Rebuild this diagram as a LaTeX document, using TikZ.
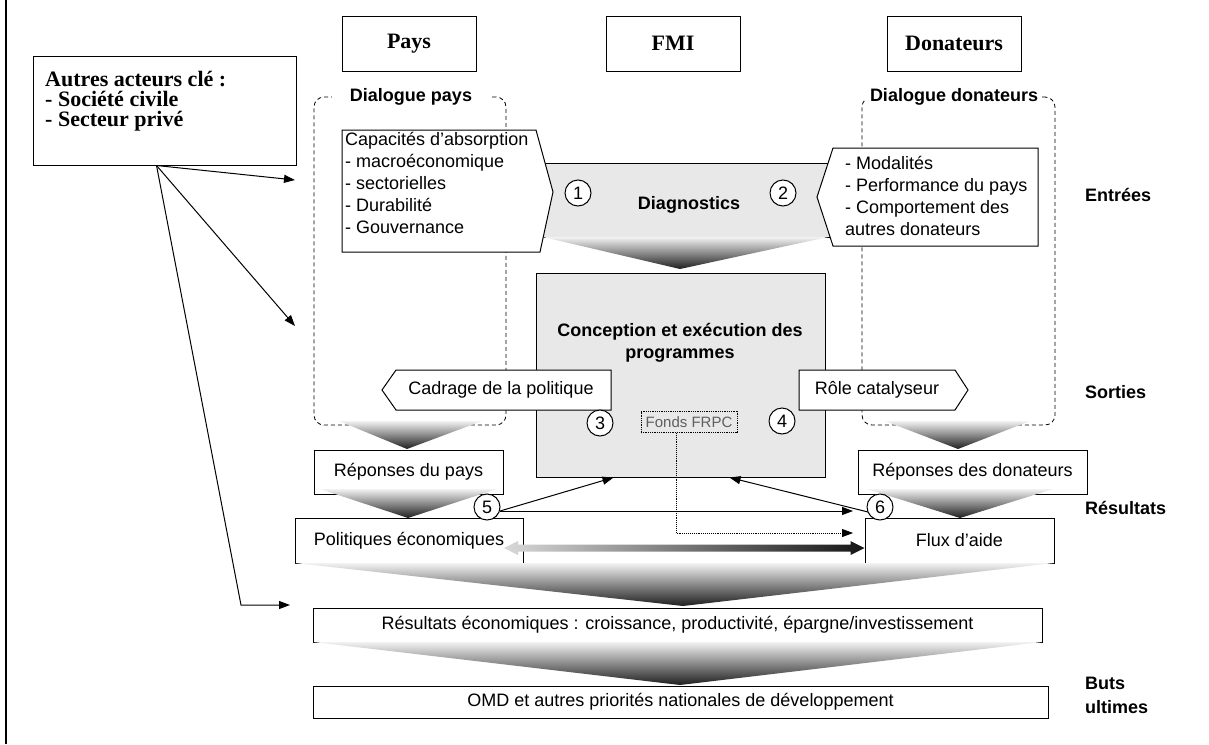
\documentclass[tikz,border=0pt]{standalone}
\usepackage{fontspec}
\setmainfont{Liberation Serif}
\setsansfont{Liberation Sans}
\usetikzlibrary{arrows.meta,calc}
\definecolor{bandgray}{RGB}{232,232,232}
\definecolor{fondsgray}{RGB}{95,95,95}
\begin{document}
\begin{tikzpicture}[x=1pt,y=-1pt,
  every node/.style={inner sep=2pt},
  ln/.style={line width=1pt},
  box/.style={draw, line width=1pt, fill=white, inner sep=0pt},
  st/.style={font=\sffamily\fontsize{18}{22}\selectfont},
  sb/.style={font=\sffamily\bfseries\fontsize{18}{22}\selectfont},
  rb/.style={font=\rmfamily\bfseries\fontsize{22}{20}\selectfont},
  num/.style={circle, draw, line width=1pt, fill=white, minimum size=26pt, inner sep=0pt, font=\sffamily\fontsize{18}{18}\selectfont},
  arr/.style={line width=1pt, -{Triangle[length=11pt,width=8pt]}},
  funnel/.style={top color=black!5, bottom color=black!88, draw=none},
  region/.style={draw, line width=0.8pt, dash pattern=on 4pt off 3pt, rounded corners=10pt, inner sep=0pt},
]
\useasboundingbox (0,0) rectangle (1209,744);
\fill[white] (0,0) rectangle (1209,744);
\draw[line width=1.6pt] (6,0) -- (6,744);

% other actors
\node[box, minimum width=263, minimum height=109] (autres) at (164.5,110.5) {};
\node[rb, anchor=north west, align=left] (autrestxt) at (43,69) {Autres acteurs clé :\\- Société civile\\- Secteur privé};

% column heads
\node[box, rb, minimum width=134, minimum height=55] (pays) at (409,43.5) {Pays};
\node[box, rb, minimum width=134, minimum height=55] (fmi) at (673,43.5) {FMI};
\node[box, rb, minimum width=134, minimum height=55] (don) at (954,43.5) {Donateurs};

% dialogue regions
\node[region, minimum width=192, minimum height=328] (dlgp) at (410,261) {};
\node[region, minimum width=193, minimum height=328] (dlgd) at (958.5,261) {};
\node[sb, fill=white, inner xsep=18pt, inner ysep=2pt] (dlgplbl) at (411,97) {Dialogue pays};
\node[sb, fill=white, inner xsep=4pt, inner ysep=2pt] (dlgdlbl) at (954,97) {Dialogue donateurs};

% diagnostics band
\node[draw, line width=0.8pt, fill=bandgray, minimum width=315, minimum height=74, inner sep=0pt] (band) at (682.5,200) {};
\draw[ln, fill=white] (342,130) -- (536,130) -- (553,192) -- (540,252) -- (342,252) -- cycle;
\node[st, anchor=north west, align=left] (captxt) at (343,130.5) {Capacités d’absorption\\- macroéconomique\\- sectorielles\\- Durabilité\\- Gouvernance};
\draw[ln, fill=white] (833,148) -- (1038,148) -- (1038,246) -- (833,246) -- (817,197) -- cycle;
\node[st, anchor=north west, align=left] (dontxt) at (843,154) {- Modalités\\- Performance du pays\\- Comportement des\\autres donateurs};
\node[sb] (diagtxt) at (689,205) {Diagnostics};
\node[num] (c1) at (578,193) {1};
\node[num] (c2) at (783,193) {2};
\shade[funnel] (543,237) -- (828,237) -- (680,269) -- cycle;

% programme
\node[draw, ln, fill=bandgray, minimum width=289, minimum height=204, inner sep=0pt] (conc) at (680.5,375) {};
\node[sb, anchor=north, align=center] (conctxt) at (680,321.5) {Conception et exécution des\\programmes};
\draw[ln, fill=white] (382,390) -- (396,370) -- (611,370) -- (611,410) -- (396,410) -- cycle;
\node[st] (cadtxt) at (501,390) {Cadrage de la politique};
\draw[ln, fill=white] (799,370) -- (955,370) -- (968,390) -- (955,410) -- (799,410) -- cycle;
\node[st] (roletxt) at (877,390) {Rôle catalyseur};
\node[num] (c3) at (600,423) {3};
\node[num] (c4) at (782,421) {4};
\node[draw, densely dotted, line width=0.8pt, text=fondsgray, font=\sffamily\fontsize{15}{15}\selectfont, minimum width=96, minimum height=21, inner sep=0pt] (fonds) at (689,422) {Fonds FRPC};

% responses
\shade[funnel] (339,421) -- (482,421) -- (407,449) -- cycle;
\shade[funnel] (885,421) -- (1030,421) -- (958,449) -- cycle;
\node[box, st, minimum width=189, minimum height=44] (reppays) at (408.5,472) {Réponses du pays};
\node[box, st, minimum width=229, minimum height=44] (repdon) at (972.5,472) {Réponses des donateurs};
\shade[funnel] (320,489) -- (497,489) -- (408,518) -- cycle;
\shade[funnel] (867,489) -- (1053,489) -- (960,518) -- cycle;
\node[box, st, minimum width=228, minimum height=45] (pol) at (409,540.5) {Politiques économiques};
\node[box, st, minimum width=189, minimum height=45] (flux) at (959.5,540.5) {Flux d’aide};

% connectors between programme, policies and aid
\coordinate (t5) at ($(conc.south west)+(78,0)$);
\coordinate (t6) at ($(conc.south west)+(194,0)$);
\coordinate (c5o) at (500,511);
\coordinate (c6o) at (868,512);
\draw[arr] (c5o) -- (t5);
\draw[arr] (c5o) -- (853,511);
\draw[arr] (c6o) -- (t6);
\node[num] (c5) at (487,507) {5};
\node[num] (c6) at (880,507) {6};
\coordinate (fd) at ($(fonds.south)+(-13,0)$);
\coordinate (td) at (853,533);
\draw[line width=0.9pt, densely dotted, -{Triangle[length=11pt,width=8pt]}] (fd) |- (td);
\coordinate (ga) at (504,548);
\coordinate (gb) at (flux.west |- ga);
\shade[left color=black!15, right color=black!92] (ga) -- ++(14,-7) -- ++(0,3.5) -- ($(gb)+(-14,-3.5)$) -- ++(0,-3.5) -- (gb) -- ++(-14,7) -- ++(0,-3.5) -- ($(ga)+(14,3.5)$) -- ++(0,3.5) -- cycle;

% outcomes
\shade[funnel] (295,563) -- (1054,563) -- (683,606) -- cycle;
\node[box, font=\sffamily\fontsize{18}{20}\selectfont, minimum width=729, minimum height=34] (res) at (677.5,625) {Résultats économiques : croissance, productivité, épargne/investissement};
\shade[funnel] (313,642) -- (1042,642) -- (680,685) -- cycle;
\node[box, font=\sffamily\fontsize{18}{20}\selectfont, minimum width=735, minimum height=32] (omd) at (680.5,702) {OMD et autres priorités nationales de développement};

% arrows from other actors
\coordinate (aorig) at ($(autres.south)+(-8,0)$);
\coordinate (ta1) at (295,180);
\coordinate (ta2) at (295,326);
\coordinate (tb3) at (241,605);
\coordinate (ta3) at (290,605);
\draw[arr] (aorig) -- (ta1);
\draw[arr] (aorig) -- (ta2);
\draw[arr] (aorig) -- (tb3) -- (ta3);

% stage labels
\node[sb, anchor=west] (lblin) at (1083,195) {Entrées};
\node[sb, anchor=west] (lblout) at (1083,392) {Sorties};
\node[sb, anchor=west] (lblres) at (1083,508) {Résultats};
\node[sb, anchor=west, align=left, font=\sffamily\bfseries\fontsize{18}{24}\selectfont] (lblbuts) at (1083,695) {Buts\\ultimes};
\end{tikzpicture}
\end{document}
